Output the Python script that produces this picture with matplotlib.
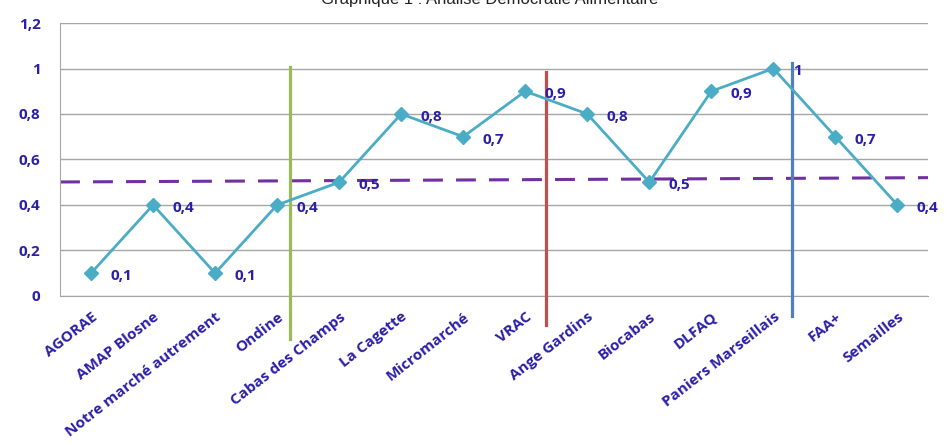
import numpy as np
import matplotlib
matplotlib.use('Agg')
import matplotlib.pyplot as plt

categories = ['AGORAE', 'AMAP Blosne', 'Notre marché autrement', 'Ondine',
              'Cabas des Champs', 'La Cagette', 'Micromarché', 'VRAC',
              'Ange Gardins', 'Biocabas', 'DLFAQ', 'Paniers Marseillais',
              'FAA+', 'Semailles']
scores = [0.1, 0.4, 0.1, 0.4, 0.5, 0.8, 0.7, 0.9, 0.8, 0.5, 0.9, 1.0, 0.7, 0.4]
labels = ['0,1', '0,4', '0,1', '0,4', '0,5', '0,8', '0,7', '0,9', '0,8',
          '0,5', '0,9', '1', '0,7', '0,4']
yticks = [0, 0.2, 0.4, 0.6, 0.8, 1.0, 1.2]
ytick_labels = ['0', '0,2', '0,4', '0,6', '0,8', '1', '1,2']

# separators between groups: (x position, y bottom, y top, colour)
separators = [(3.20, -0.19, 1.007, '#9BBB59'),
              (7.33, -0.13, 0.985, '#C0504D'),
              (11.30, -0.09, 1.024, '#4F81BD')]
mean_line = (0.501, 0.52)

text_col = '#2B1FA6'
font = 'Open Sans'

fig = plt.figure(figsize=(9.47, 4.47), dpi=100)
ax = fig.add_axes([0.0634, 0.338, 0.917, 0.6105])
x = np.arange(len(categories))

ax.set_xlim(-0.5, len(categories) - 0.5)
ax.set_ylim(0, 1.2)
ax.set_yticks(yticks)
ax.set_yticklabels(ytick_labels, color=text_col, fontweight='bold',
                   fontsize=11, family=font)
ax.yaxis.grid(True, color='#A6A6A6', linewidth=1)
ax.set_axisbelow(True)
for s in ['top', 'right']:
    ax.spines[s].set_visible(False)
ax.spines['left'].set_color('#A6A6A6')
ax.spines['bottom'].set_color('#A6A6A6')
ax.tick_params(axis='y', length=0, pad=14)

ax.set_xticks(x)
ax.set_xticklabels(categories, rotation=38, ha='right', rotation_mode='anchor',
                   color=text_col, fontweight='bold', fontsize=11, family=font)
ax.tick_params(axis='x', length=0, pad=10)

ax.plot([-0.5, len(categories) - 0.5], mean_line, color='#7030A0',
        linestyle=(0, (6.5, 4.3)), linewidth=2.2, zorder=2)

for xs, y0, y1, col in separators:
    ax.plot([xs, xs], [y0, y1], color=col, linewidth=2.3, clip_on=False, zorder=3)

ax.plot(x, scores, color='#4BACC6', linewidth=2, marker='D', markersize=7,
        zorder=4)
for xi, yi, lab in zip(x, scores, labels):
    ax.annotate(lab, (xi, yi), xytext=(14, -2), textcoords='offset points',
                va='center', ha='left', color=text_col, fontweight='bold',
                fontsize=11, family=font, zorder=5)

fig.text(0.517, 1 - 4 / 447, 'Graphique 1 : Analise Démocratie Alimentaire',
         ha='center', va='baseline', fontsize=12, family='Liberation Sans',
         color='#222222')

fig.savefig('out.png', dpi=100)
